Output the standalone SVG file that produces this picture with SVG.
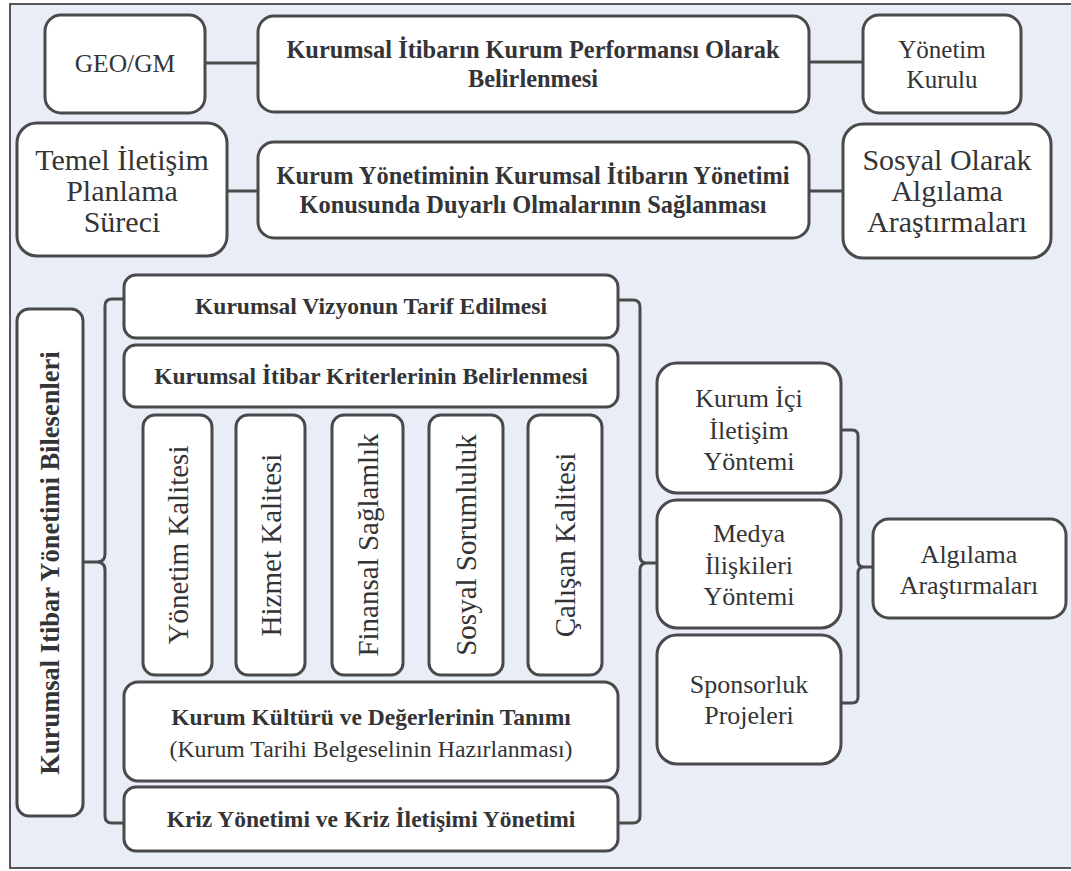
<svg xmlns="http://www.w3.org/2000/svg" width="1071" height="871" viewBox="0 0 1071 871">
  <style>
    .box { fill: #ffffff; stroke: #4a4a4d; stroke-width: 3; }
    .link { fill: none; stroke: #4a4a4d; stroke-width: 3; stroke-linejoin: round; }
    text { font-family: "Liberation Serif", "Times New Roman", serif; fill: #343436; text-anchor: middle; }
    .b { font-weight: bold; }
  </style>

  <!-- page background and frame -->
  <rect x="0" y="0" width="1071" height="871" fill="#ffffff"/>
  <rect x="10" y="4" width="1080" height="864" fill="#e8edf6" stroke="#555558" stroke-width="2"/>

  <!-- connectors -->
  <g id="connectors">
    <line class="link" x1="205" y1="63" x2="258" y2="63"/>
    <line class="link" x1="809" y1="62" x2="863" y2="62"/>
    <line class="link" x1="227" y1="191" x2="258" y2="191"/>
    <line class="link" x1="809" y1="191" x2="843" y2="191"/>
    <!-- left brace grouping the component boxes -->
    <path class="link" d="M124,299 L112,299 Q105,299 105,306 L105,554 Q105,562 97,562 L83,562 M97,562 Q105,562 105,570 L105,816 Q105,823 112,823 L124,823"/>
    <!-- right brace from the component boxes to the method column -->
    <path class="link" d="M618,300 L633,300 Q640,300 640,307 L640,556 Q640,563 647,563 L657,563 M647,563 Q640,563 640,570 L640,816 Q640,823 633,823 L618,823"/>
    <!-- brace from the method column to perception research -->
    <path class="link" d="M841,430 L852,430 Q858,430 858,436 L858,561 Q858,567 864,567 L873,567 M864,567 Q858,567 858,573 L858,697 Q858,703 852,703 L841,703"/>
  </g>

  <!-- top row -->
  <g id="geo-gm">
    <rect class="box" x="45" y="15" width="160" height="98" rx="16"/>
    <text x="125" y="72" font-size="25.5">GEO/GM</text>
  </g>
  <g id="performans">
    <rect class="box" x="258" y="16" width="551" height="96" rx="16"/>
    <text class="b" x="533" y="58" font-size="24.4">Kurumsal İtibarın Kurum Performansı Olarak</text>
    <text class="b" x="533" y="87" font-size="24.4">Belirlenmesi</text>
  </g>
  <g id="yonetim-kurulu">
    <rect class="box" x="863" y="15" width="158" height="98" rx="16"/>
    <text x="942" y="58" font-size="25">Yönetim</text>
    <text x="942" y="88" font-size="25">Kurulu</text>
  </g>

  <!-- second row -->
  <g id="temel-iletisim">
    <rect class="box" x="17" y="123" width="210" height="133" rx="20"/>
    <text x="122" y="170" font-size="30">Temel İletişim</text>
    <text x="122" y="201" font-size="30">Planlama</text>
    <text x="122" y="232" font-size="30">Süreci</text>
  </g>
  <g id="duyarlilik">
    <rect class="box" x="258" y="142" width="551" height="96" rx="16"/>
    <text class="b" x="533" y="184" font-size="24.4">Kurum Yönetiminin Kurumsal İtibarın Yönetimi</text>
    <text class="b" x="533" y="213" font-size="24.4">Konusunda Duyarlı Olmalarının Sağlanması</text>
  </g>
  <g id="sosyal-algilama">
    <rect class="box" x="843" y="124" width="208" height="134" rx="20"/>
    <text x="947" y="170" font-size="30">Sosyal Olarak</text>
    <text x="947" y="201" font-size="30">Algılama</text>
    <text x="947" y="232" font-size="30">Araştırmaları</text>
  </g>

  <!-- left vertical title -->
  <g id="bilesenler">
    <rect class="box" x="17" y="309" width="66" height="507" rx="12"/>
    <text class="b" transform="translate(59 563) rotate(-90)" font-size="26.5">Kurumsal Itibar Yönetimi Bilesenleri</text>
  </g>

  <!-- components -->
  <g id="vizyon">
    <rect class="box" x="124" y="275" width="494" height="63" rx="12"/>
    <text class="b" x="371" y="314" font-size="23.5">Kurumsal Vizyonun Tarif Edilmesi</text>
  </g>
  <g id="kriterler">
    <rect class="box" x="124" y="345" width="494" height="62" rx="12"/>
    <text class="b" x="371" y="384" font-size="23.5">Kurumsal İtibar Kriterlerinin Belirlenmesi</text>
  </g>
  <g id="yonetim-kalitesi">
    <rect class="box" x="143" y="415" width="69" height="260" rx="12"/>
    <text transform="translate(188 545) rotate(-90)" font-size="29">Yönetim Kalitesi</text>
  </g>
  <g id="hizmet-kalitesi">
    <rect class="box" x="236" y="415" width="69" height="260" rx="12"/>
    <text transform="translate(281 545) rotate(-90)" font-size="29">Hizmet Kalitesi</text>
  </g>
  <g id="finansal-saglamlik">
    <rect class="box" x="332" y="415" width="71" height="260" rx="12"/>
    <text transform="translate(378 545) rotate(-90)" font-size="29">Finansal Sağlamlık</text>
  </g>
  <g id="sosyal-sorumluluk">
    <rect class="box" x="429" y="415" width="74" height="260" rx="12"/>
    <text transform="translate(476 545) rotate(-90)" font-size="29">Sosyal Sorumluluk</text>
  </g>
  <g id="calisan-kalitesi">
    <rect class="box" x="528" y="415" width="74" height="260" rx="12"/>
    <text transform="translate(575 545) rotate(-90)" font-size="29">Çalışan Kalitesi</text>
  </g>
  <g id="kurum-kulturu">
    <rect class="box" x="124" y="682" width="494" height="99" rx="14"/>
    <text class="b" x="371" y="725" font-size="23.5">Kurum Kültürü ve Değerlerinin Tanımı</text>
    <text x="371" y="757" font-size="23.8">(Kurum Tarihi Belgeselinin Hazırlanması)</text>
  </g>
  <g id="kriz">
    <rect class="box" x="124" y="787" width="494" height="64" rx="12"/>
    <text class="b" x="371" y="827" font-size="23.5">Kriz Yönetimi ve Kriz İletişimi Yönetimi</text>
  </g>

  <!-- communication methods -->
  <g id="kurum-ici">
    <rect class="box" x="657" y="363" width="184" height="130" rx="20"/>
    <text x="749" y="407" font-size="26">Kurum İçi</text>
    <text x="749" y="439" font-size="26">İletişim</text>
    <text x="749" y="470" font-size="26">Yöntemi</text>
  </g>
  <g id="medya">
    <rect class="box" x="657" y="500" width="184" height="128" rx="20"/>
    <text x="749" y="542" font-size="26">Medya</text>
    <text x="749" y="574" font-size="26">İlişkileri</text>
    <text x="749" y="605" font-size="26">Yöntemi</text>
  </g>
  <g id="sponsorluk">
    <rect class="box" x="657" y="635" width="184" height="129" rx="20"/>
    <text x="749" y="693" font-size="26">Sponsorluk</text>
    <text x="749" y="724" font-size="26">Projeleri</text>
  </g>
  <g id="algilama">
    <rect class="box" x="873" y="519" width="193" height="99" rx="16"/>
    <text x="969" y="563" font-size="26">Algılama</text>
    <text x="969" y="594" font-size="26">Araştırmaları</text>
  </g>
</svg>
